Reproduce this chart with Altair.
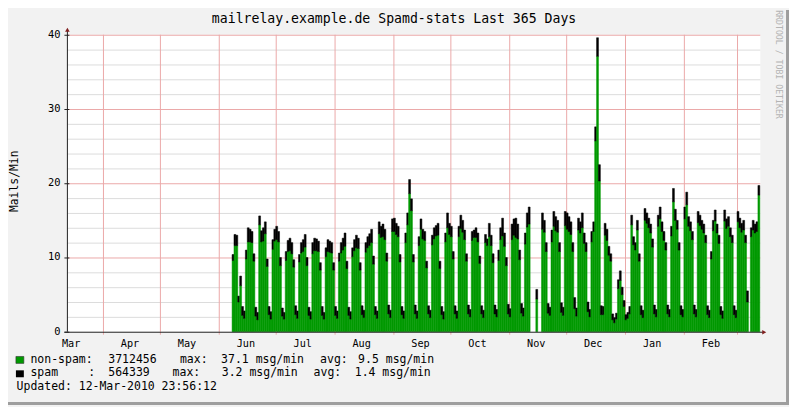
import datetime as dt
import pandas as pd
import altair as alt

# ---------------- data ----------------
# daily averages (msg/min), one line per week Mon..Sun, starting Mon 8-Jun-2009
TOTAL = [
    10.4, 13.1, 13.0, 4.8, 7.5, 3.4, 2.8,
    11.0, 14.0, 13.8, 13.5, 10.5, 3.3, 2.6,
    15.6, 13.6, 14.0, 14.8, 9.8, 3.4, 2.7,
    12.4, 13.8, 14.2, 13.5, 10.0, 3.2, 2.6,
    10.8, 12.3, 12.6, 12.0, 9.7, 3.5, 2.8,
    10.4, 12.0, 12.4, 13.1, 10.0, 3.3, 2.7,
    12.0, 12.6, 12.5, 12.2, 9.3, 3.4, 2.6,
    11.3, 12.4, 12.2, 12.0, 9.3, 3.4, 2.8,
    10.6, 12.0, 12.6, 13.3, 9.5, 3.3, 2.7,
    11.3, 12.4, 13.0, 12.6, 9.3, 3.5, 2.9,
    12.0, 12.8, 13.2, 13.8, 10.2, 3.4, 2.8,
    14.8, 14.2, 14.5, 13.8, 10.6, 3.6, 2.9,
    15.2, 15.3, 14.6, 14.2, 10.4, 3.4, 2.8,
    13.3, 16.0, 20.5, 17.9, 10.4, 3.6, 2.8,
    12.8, 15.2, 13.8, 13.5, 9.5, 3.5, 2.9,
    13.0, 14.0, 14.3, 14.6, 9.5, 3.4, 2.7,
    13.3, 16.0, 14.6, 14.2, 10.8, 3.5, 2.8,
    14.2, 15.7, 15.0, 13.7, 10.5, 3.6, 3.0,
    13.5, 13.7, 14.0, 13.3, 10.2, 3.5, 2.9,
    13.1, 12.5, 14.6, 13.0, 10.5, 3.6, 3.0,
    11.0, 14.0, 15.3, 13.3, 10.0, 3.7, 3.1,
    14.5, 15.2, 15.3, 14.5, 11.0, 3.8, 3.2,
    13.3, 16.0, 16.8, None, None, None, 5.7,
    None, None, 16.0, 15.0, 12.0, 3.8, 3.3,
    13.7, 16.2, 15.5, 15.0, 12.0, 3.9, 3.3,
    16.2, 16.0, 15.5, 14.8, 12.0, 4.6, 3.2,
    15.3, 14.8, 16.0, 13.3, 12.0, 4.0, 3.0,
    13.5, 14.8, 27.6, 39.6, 22.5, 3.5, 3.4,
    14.6, 13.8, 11.5, 10.5, 2.4, 1.9, 2.5,
    7.0, 8.2, 6.0, 4.2, 2.3, 2.6, 3.4,
    15.7, 12.8, 12.0, 15.0, 10.5, 3.5, 2.9,
    16.6, 16.0, 15.3, 14.5, 12.5, 3.6, 3.0,
    15.7, 16.8, 14.8, 13.5, 12.0, 3.6, 3.0,
    14.2, 19.3, 16.5, 15.0, 12.0, 3.5, 3.0,
    16.8, 18.8, 15.5, 14.8, 13.5, 3.6, 3.0,
    16.2, 15.7, 15.0, 14.5, 13.0, 3.5, 2.9,
    10.8, 15.0, 16.4, 14.5, 13.0, 3.4, 2.8,
    16.4, 15.2, 15.5, 14.0, 13.0, 3.5, 2.9,
    16.2, 15.3, 14.6, 15.0, 13.0, 5.5, None,
    14.0, 15.0, 14.5, 14.8, 19.7,
]
SPAM = [
    0.8, 1.5, 1.4, 0.8, 1.3, 1.2, 1.0,
    1.2, 1.9, 1.7, 1.5, 1.0, 1.2, 1.0,
    1.2, 1.5, 1.8, 1.6, 1.0, 1.1, 1.0,
    1.3, 1.6, 1.8, 1.4, 1.1, 1.1, 0.9,
    1.2, 1.5, 1.7, 1.5, 1.0, 1.2, 1.0,
    1.0, 1.4, 1.6, 1.7, 1.1, 1.1, 1.0,
    1.5, 1.7, 1.6, 1.4, 1.0, 1.2, 0.9,
    1.2, 1.6, 1.5, 1.4, 1.0, 1.2, 1.0,
    1.1, 1.4, 1.6, 1.8, 1.0, 1.1, 1.0,
    1.2, 1.5, 1.7, 1.4, 1.0, 1.2, 1.0,
    1.3, 1.5, 1.6, 1.8, 1.1, 1.1, 1.0,
    1.6, 1.5, 1.7, 1.4, 1.1, 1.2, 1.0,
    1.7, 1.8, 1.5, 1.4, 1.0, 1.1, 1.0,
    1.3, 1.6, 1.9, 1.6, 1.0, 1.2, 1.0,
    1.2, 1.4, 1.3, 1.2, 0.9, 1.1, 1.0,
    1.3, 1.5, 1.4, 1.6, 1.0, 1.1, 1.0,
    1.2, 2.0, 1.5, 1.4, 1.0, 1.1, 1.0,
    1.4, 1.8, 1.6, 1.3, 1.0, 1.2, 1.0,
    1.2, 1.0, 1.3, 1.2, 1.0, 1.1, 1.0,
    1.1, 0.9, 1.8, 1.4, 1.2, 1.2, 1.0,
    1.4, 1.6, 2.4, 1.8, 1.1, 1.3, 1.1,
    2.1, 2.2, 2.6, 2.0, 1.3, 1.3, 1.1,
    1.5, 1.9, 2.3, None, None, None, 1.3,
    None, None, 2.2, 1.6, 1.2, 1.3, 1.1,
    1.6, 2.0, 1.9, 1.6, 1.2, 1.3, 1.1,
    1.9, 2.2, 2.0, 1.7, 1.2, 1.5, 1.1,
    1.6, 1.5, 2.0, 1.4, 1.2, 1.3, 1.0,
    1.4, 1.3, 1.9, 2.5, 2.2, 1.2, 1.1,
    1.6, 1.5, 1.2, 1.0, 0.8, 0.7, 0.8,
    1.2, 1.3, 1.0, 0.8, 0.7, 0.8, 1.0,
    1.3, 1.1, 1.0, 1.3, 1.0, 1.2, 1.0,
    1.6, 1.4, 1.3, 1.2, 1.1, 1.2, 1.0,
    1.5, 1.6, 1.3, 1.2, 1.0, 1.2, 1.0,
    1.3, 1.8, 1.5, 1.2, 1.0, 1.2, 1.0,
    1.6, 1.7, 1.3, 1.2, 1.1, 1.2, 1.0,
    1.5, 1.4, 1.2, 1.2, 1.0, 1.2, 1.0,
    1.0, 1.4, 1.5, 1.2, 1.1, 1.1, 1.0,
    1.5, 1.3, 1.3, 1.2, 1.0, 1.2, 1.0,
    1.4, 1.3, 1.2, 1.3, 1.0, 1.5, None,
    1.2, 1.3, 1.2, 1.3, 1.3,
]
FIRST_DAY = dt.datetime(2009, 6, 8)
GRAPH_END = dt.datetime(2010, 3, 12, 23, 56, 12)
SPAN_DAYS = 365
MONTHS = ["Mar", "Apr", "May", "Jun", "Jul", "Aug", "Sep", "Oct", "Nov", "Dec", "Jan", "Feb"]
MONTH_YEARS = [2009] * 10 + [2010] * 2
MONTH_NUMS = [3, 4, 5, 6, 7, 8, 9, 10, 11, 12, 1, 2]
Y_MAJOR = [0, 10, 20, 30, 40]
Y_MINOR = [2, 4, 6, 8, 12, 14, 16, 18, 22, 24, 26, 28, 32, 34, 36, 38]

TITLE = "mailrelay.example.de Spamd-stats Last 365 Days"
YLABEL = "Mails/Min"
LEG1 = ["non-spam:", "3712456", "max:", "37.1 msg/min", "avg:", "9.5 msg/min"]
LEG2 = ["spam", ":", "564339", "max:", "3.2 msg/min", "avg:", "1.4 msg/min"]
UPDATED = "Updated: 12-Mar-2010 23:56:12"
WATERMARK = "RRDTOOL / TOBI OETIKER"

# ---------------- styling ----------------
MONO = "DejaVu Sans Mono"
GREEN = "#009900"
BLACK = "#000000"
BACK = "#F2F2F2"
GRID_C = "#DCDCDC"
MGRID_C = "#EBA8A8"
AXIS_C = "#1F1F1F"
ARROW_C = "#801F1F"
SHADE_B = "#9E9E9E"
W, H = 700, 300

START = GRAPH_END - dt.timedelta(days=SPAN_DAYS)
DAY = dt.timedelta(days=1)


def off(t):
    return (t - START) / DAY


rows = []
for i, (tot, sp) in enumerate(zip(TOTAL, SPAM)):
    if tot is None:
        continue
    d0 = FIRST_DAY + i * DAY - dt.timedelta(hours=6)
    x0 = off(d0)
    ns = tot - sp
    rows.append(dict(x0=x0, x1=x0 + 1, y0=0.0, y1=ns, s="non-spam"))
    rows.append(dict(x0=x0, x1=x0 + 1, y0=ns, y1=tot, s="spam"))
bars_df = pd.DataFrame(rows)

month_mid = []
month_start = []
for y, m, name in zip(MONTH_YEARS, MONTH_NUMS, MONTHS):
    month_mid.append(dict(mid=off(dt.datetime(y, m, 15)), name=name))
    ny, nm = (y + 1, 1) if m == 12 else (y, m + 1)
    month_start.append(off(dt.datetime(ny, nm, 1)))
mid_df = pd.DataFrame(month_mid)
ms_df = pd.DataFrame({"ms": month_start})
ymin_df = pd.DataFrame({"ym": Y_MINOR})
ymaj_df = pd.DataFrame({"yM": Y_MAJOR})

xs = alt.Scale(domain=[0, SPAN_DAYS], nice=False, zero=False)
ys = alt.Scale(domain=[0, 40], nice=False, zero=False)

layers = []
# grid
layers.append(alt.Chart(ymin_df).mark_rule(color=GRID_C, strokeWidth=1, yOffset=0.5).encode(
    y=alt.Y("ym:Q", scale=ys, axis=None)))
layers.append(alt.Chart(ymaj_df).transform_filter("datum.yM > 0").mark_rule(
    color=MGRID_C, strokeWidth=1, yOffset=0.5).encode(
    y=alt.Y("yM:Q", scale=ys, axis=None)))
layers.append(alt.Chart(ms_df).mark_rule(color=MGRID_C, strokeWidth=1).encode(
    x=alt.X("ms:Q", scale=xs, axis=None)))

# data
colscale = alt.Scale(domain=["non-spam", "spam"], range=[GREEN, BLACK])
layers.append(alt.Chart(bars_df).mark_rect(strokeWidth=0.5).encode(
    x=alt.X("x0:Q", scale=xs, axis=None),
    x2="x1:Q",
    y=alt.Y("y0:Q", scale=ys, axis=None),
    y2="y1:Q",
    color=alt.Color("s:N", scale=colscale, legend=None),
    stroke=alt.Stroke("s:N", scale=colscale, legend=None),
))

# axes drawn by hand
layers.append(alt.Chart(ms_df).mark_rule(color=MGRID_C, strokeWidth=1).encode(
    x=alt.X("ms:Q", scale=xs, axis=None), y=alt.value(H), y2=alt.value(H + 3)))
layers.append(alt.Chart(ymaj_df).mark_rule(color=AXIS_C, strokeWidth=1, yOffset=0.5).encode(
    y=alt.Y("yM:Q", scale=ys, axis=None), x=alt.value(-3), x2=alt.value(2)))
layers.append(alt.Chart(ymaj_df).mark_text(
    font=MONO, fontSize=10.5, align="right", baseline="middle", color="black").encode(
    y=alt.Y("yM:Q", scale=ys, axis=None), x=alt.value(-7), text="yM:Q"))
layers.append(alt.Chart(mid_df).mark_text(
    font=MONO, fontSize=10.3, baseline="middle", align="center", color="black"
).encode(x=alt.X("mid:Q", scale=xs, axis=None), y=alt.value(H + 12), text="name:N"))

one = pd.DataFrame({"k": [0]})


def txt(text, x, y, size=11.6, align="left", angle=0, color="black"):
    return alt.Chart(one).mark_text(
        text=text, font=MONO, fontSize=size, align=align, baseline="middle",
        angle=angle, color=color).encode(x=alt.value(x), y=alt.value(y))


def box(x, x2, y, y2, fill, stroke=None):
    kw = dict(color=fill)
    if stroke:
        kw.update(stroke=stroke, strokeWidth=0.6)
    return alt.Chart(one).mark_rect(**kw).encode(
        x=alt.value(x), x2=alt.value(x2), y=alt.value(y), y2=alt.value(y2))


# axis lines + arrows
layers.append(alt.Chart(one).mark_rule(color=AXIS_C, strokeWidth=1, xOffset=0.5).encode(
    x=alt.value(-0.5), y=alt.value(-4), y2=alt.value(H)))
layers.append(alt.Chart(one).mark_rule(color=AXIS_C, strokeWidth=1, yOffset=0.5).encode(
    x=alt.value(-3), x2=alt.value(W + 3), y=alt.value(H)))
layers.append(alt.Chart(one).mark_point(shape="triangle-up", filled=True, size=22,
                                        color=ARROW_C, opacity=1).encode(
    x=alt.value(0), y=alt.value(-5)))
layers.append(alt.Chart(one).mark_point(shape="triangle-right", filled=True, size=22,
                                        color=ARROW_C, opacity=1).encode(
    x=alt.value(W + 4), y=alt.value(H + 0.5)))

# title / axis title / watermark
layers.append(txt(TITLE, 330, -16, size=13.3, align="center"))
layers.append(txt(YLABEL, -53, 148, size=11.5, align="center", angle=270))
layers.append(txt(WATERMARK, 718, 30, size=8.3, align="center", angle=90, color="#B4B4B4"))

# legend
layers.append(box(-52, -44, 325, 332, GREEN, "#333333"))
layers.append(box(-52, -44, 339, 346, BLACK))
for t, x in zip(LEG1, [-37.3, 41.3, 113.7, 155.3, 255.3, 293.7]):
    layers.append(txt(t, x, 328.7))
for t, x in zip(LEG2, [-37.3, 21.0, 41.3, 106.3, 156.0, 248.7, 290.3]):
    layers.append(txt(t, x, 342.2))
layers.append(txt(UPDATED, -51.3, 356))

# dark shade on right / bottom edge
layers.append(box(726, 729, -25, 374, SHADE_B))
layers.append(box(-60, 729, 371, 374, SHADE_B))

chart = alt.layer(*layers).properties(
    width=W, height=H,
    autosize=alt.AutoSizeParams(type="none"),
    padding={"left": 60, "top": 25, "right": 29, "bottom": 74},
    background=BACK,
).configure_view(fill="white", strokeWidth=0)

chart.save("out.html", embed_options={"renderer": "svg", "actions": False})
